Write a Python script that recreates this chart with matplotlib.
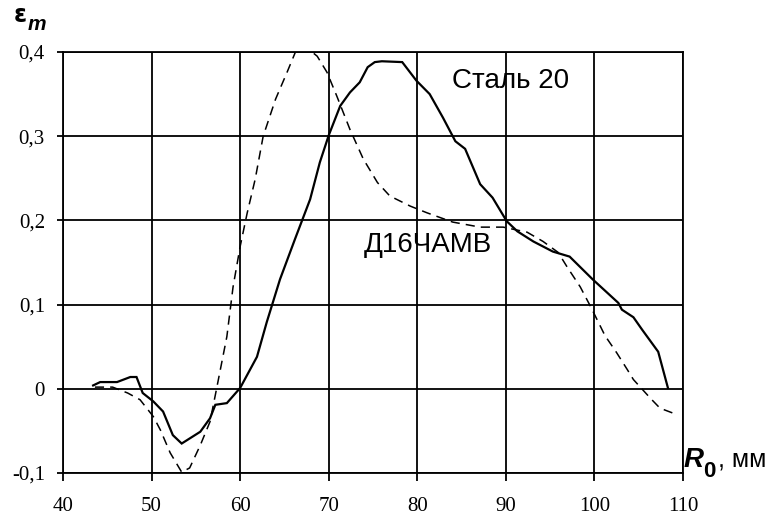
import matplotlib
matplotlib.use("Agg")
import matplotlib.pyplot as plt

# --- data -------------------------------------------------------------
steel_x = [43.4, 44.2, 46.1, 47.6, 48.3, 49.0, 50.2, 51.3, 52.4, 53.4, 55.5,
           56.6, 57.2, 58.5, 60.0, 61.9, 63.0, 64.5, 66.2, 67.9, 69.0, 70.0,
           71.3, 72.4, 73.5, 74.4, 75.2, 76.0, 78.3, 79.9, 81.4, 82.9, 84.3,
           85.4, 87.1, 88.5, 90.1, 91.3, 93.1, 95.3, 97.2, 99.8, 102.7, 103.1,
           104.4, 105.4, 107.2, 108.3]
steel_y = [0.004, 0.008, 0.008, 0.014, 0.014, -0.005, -0.015, -0.027, -0.055,
           -0.065, -0.051, -0.035, -0.019, -0.017, 0.001, 0.038, 0.079, 0.130,
           0.178, 0.225, 0.269, 0.301, 0.336, 0.352, 0.364, 0.382, 0.388,
           0.389, 0.388, 0.366, 0.350, 0.322, 0.294, 0.285, 0.243, 0.227,
           0.199, 0.187, 0.175, 0.163, 0.157, 0.130, 0.102, 0.094, 0.085,
           0.070, 0.044, 0.001]

alloy_x = [43.6, 45.6, 47.3, 48.7, 50.2, 51.0, 52.1, 53.4, 54.3, 55.5, 56.6,
           57.3, 58.5, 59.2, 60.0, 60.8, 61.7, 62.6, 64.0, 65.3, 66.4, 67.3,
           68.7, 69.8, 70.9, 72.4, 73.9, 75.5, 76.9, 79.2, 81.1, 84.0, 87.1,
           89.7, 92.4, 94.2, 95.9, 96.9, 98.4, 99.6, 101.2, 102.5, 103.7,
           104.4, 106.3, 107.4, 109.4]
alloy_y = [0.002, 0.002, -0.005, -0.013, -0.033, -0.049, -0.076, -0.099,
           -0.094, -0.067, -0.039, -0.002, 0.062, 0.121, 0.169, 0.209, 0.249,
           0.300, 0.344, 0.376, 0.404, 0.407, 0.395, 0.376, 0.348, 0.308,
           0.273, 0.245, 0.229, 0.217, 0.209, 0.198, 0.192, 0.192, 0.186,
           0.175, 0.162, 0.145, 0.121, 0.097, 0.063, 0.043, 0.023, 0.011,
           -0.011, -0.023, -0.031]

x_ticks = [40, 50, 60, 70, 80, 90, 100, 110]
y_ticks = [-0.1, 0, 0.1, 0.2, 0.3, 0.4]
y_tick_labels = ["-0,1", "0", "0,1", "0,2", "0,3", "0,4"]
label_steel = "Сталь 20"
label_alloy = "Д16ЧАМВ"

# --- figure -----------------------------------------------------------
W, H = 772, 515
fig = plt.figure(figsize=(W / 100, H / 100), dpi=100)

def px(x, y):
    return x / W, 1 - y / H

left, right, top, bottom = 63, 683, 52, 473
ax = fig.add_axes([left / W, 1 - bottom / H, (right - left) / W, (bottom - top) / H])

ax.plot(steel_x, steel_y, color="black", lw=1.6, solid_joinstyle="miter")
ax.plot(alloy_x, alloy_y, color="black", lw=1.1, dashes=(6, 4))

ax.set_xlim(40, 110)
ax.set_ylim(-0.1, 0.4)
ax.set_xticks(x_ticks)
ax.set_xticklabels([str(v) for v in x_ticks])
ax.set_yticks(y_ticks)
ax.set_yticklabels(y_tick_labels)
ax.grid(True, color="black", lw=1.3)
ax.set_axisbelow(True)
for s in ax.spines.values():
    s.set_linewidth(1.3)
    s.set_color("black")

serif = "Liberation Serif"
for lab in ax.get_xticklabels() + ax.get_yticklabels():
    lab.set_fontfamily(serif)
    lab.set_fontsize(15)
ax.tick_params(axis="x", direction="out", length=6, width=1.3, pad=11)
ax.tick_params(axis="y", direction="out", length=4, width=1.3, pad=9)

sans = "Liberation Sans"
ax.text(83.9, 0.365, label_steel, fontfamily=sans, fontsize=20,
        ha="left", va="center")
ax.text(73.9, 0.171, label_alloy, fontfamily=sans, fontsize=20,
        ha="left", va="center")

# y-axis label: epsilon_m
fig.text(*px(14, 15), "ε", fontfamily="DejaVu Sans", fontweight="bold",
         fontsize=17, ha="left", va="center")
fig.text(*px(28, 24), "m", fontfamily=sans, fontweight="bold",
         fontstyle="italic", fontsize=15, ha="left", va="center")

# x-axis label: R0, мм
fig.text(*px(684, 467), "R", fontfamily=sans, fontweight="bold",
         fontstyle="italic", fontsize=20, ha="left", va="baseline")
fig.text(*px(703, 477), "0", fontfamily=sans, fontweight="bold",
         fontsize=16, ha="left", va="baseline")
fig.text(*px(718, 467), ", мм", fontfamily=sans, fontsize=18,
         ha="left", va="baseline")

fig.savefig("out.png", dpi=100)
